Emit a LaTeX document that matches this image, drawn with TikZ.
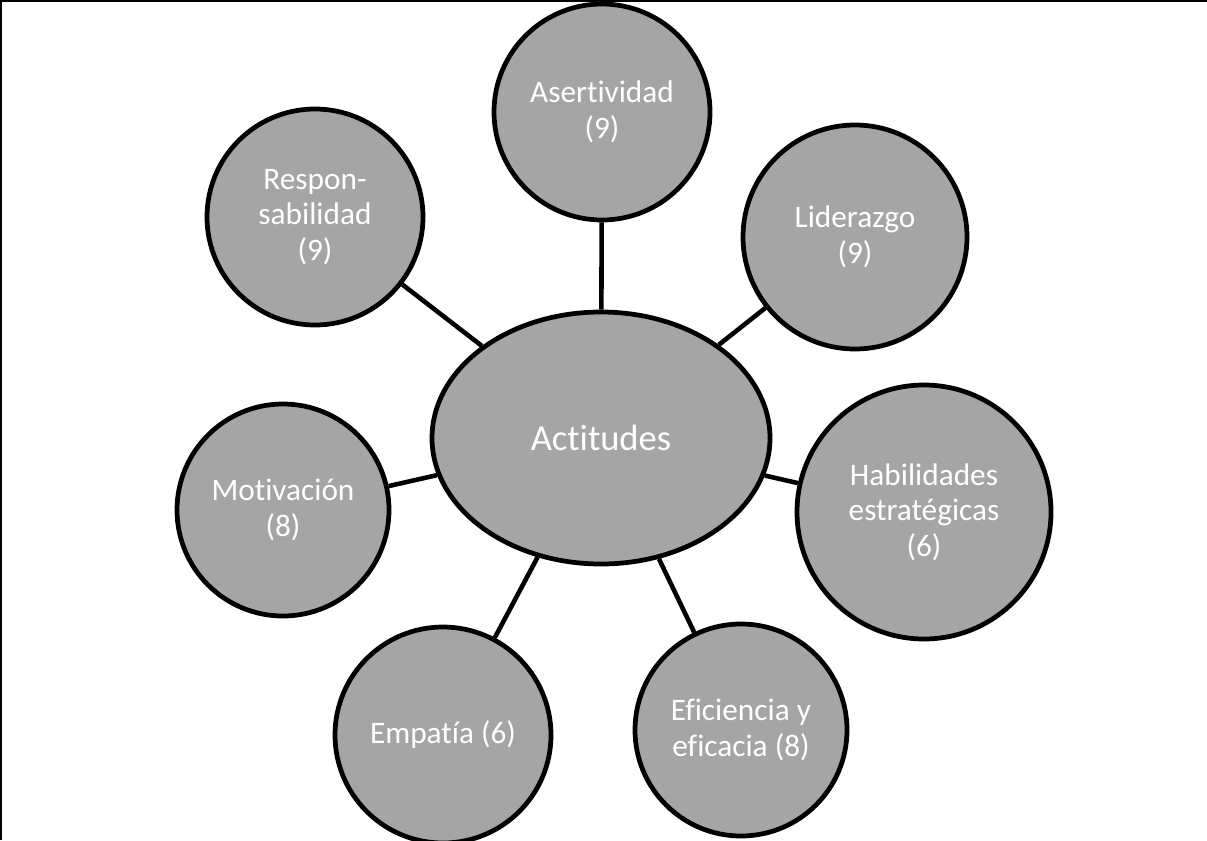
\documentclass[tikz,border=0pt]{standalone}
\usepackage{fontspec}
\setmainfont{Carlito}[Ligatures=NoCommon]
\usetikzlibrary{shapes.geometric}
\definecolor{bubblegray}{RGB}{165,165,165}
\tikzset{
  bubble/.style={circle, draw=black, fill=bubblegray, line width=1.35pt, inner sep=0pt,
    text=white, align=center, font=\fontsize{8.9}{10.1}\selectfont},
  hub/.style={ellipse, draw=black, fill=bubblegray, line width=1.35pt, inner sep=0pt,
    minimum width=3.38cm, minimum height=2.52cm, text=white,
    font=\fontsize{10.4}{12}\selectfont},
  link/.style={draw=black, line width=1.3pt},
  frame/.style={draw=black, line width=0.6pt}
}
\begin{document}
\begin{tikzpicture}
\useasboundingbox (0,0) rectangle (12.07,-8.40);
\draw[frame] (0.01,-8.40) -- (0.01,-0.01) -- (12.07,-0.01);

\node[hub] (act) at (6.01,-4.38) {Actitudes};
\node[bubble, minimum size=2.16cm] (ase) at (6.02,-1.12) {Asertividad\\(9)};
\node[bubble, minimum size=2.24cm] (lid) at (8.55,-2.37) {Liderazgo\\(9)};
\node[bubble, minimum size=2.54cm] (hab) at (9.24,-5.12) {Habilidades\\estratégicas\\(6)};
\node[bubble, minimum size=2.12cm] (efi) at (7.41,-7.30) {Eficiencia y\\eficacia (8)};
\node[bubble, minimum size=2.16cm] (emp) at (4.43,-7.35) {Empatía (6)};
\node[bubble, minimum size=2.12cm] (mot) at (2.83,-5.10) {Motivación\\(8)};
\node[bubble, minimum size=2.16cm] (res) at (3.15,-2.17) {Respon-\\sabilidad\\(9)};

\foreach \n in {ase,lid,hab,efi,emp,mot,res}{
  \draw[link] (act) -- (\n);
}
\end{tikzpicture}
\end{document}
